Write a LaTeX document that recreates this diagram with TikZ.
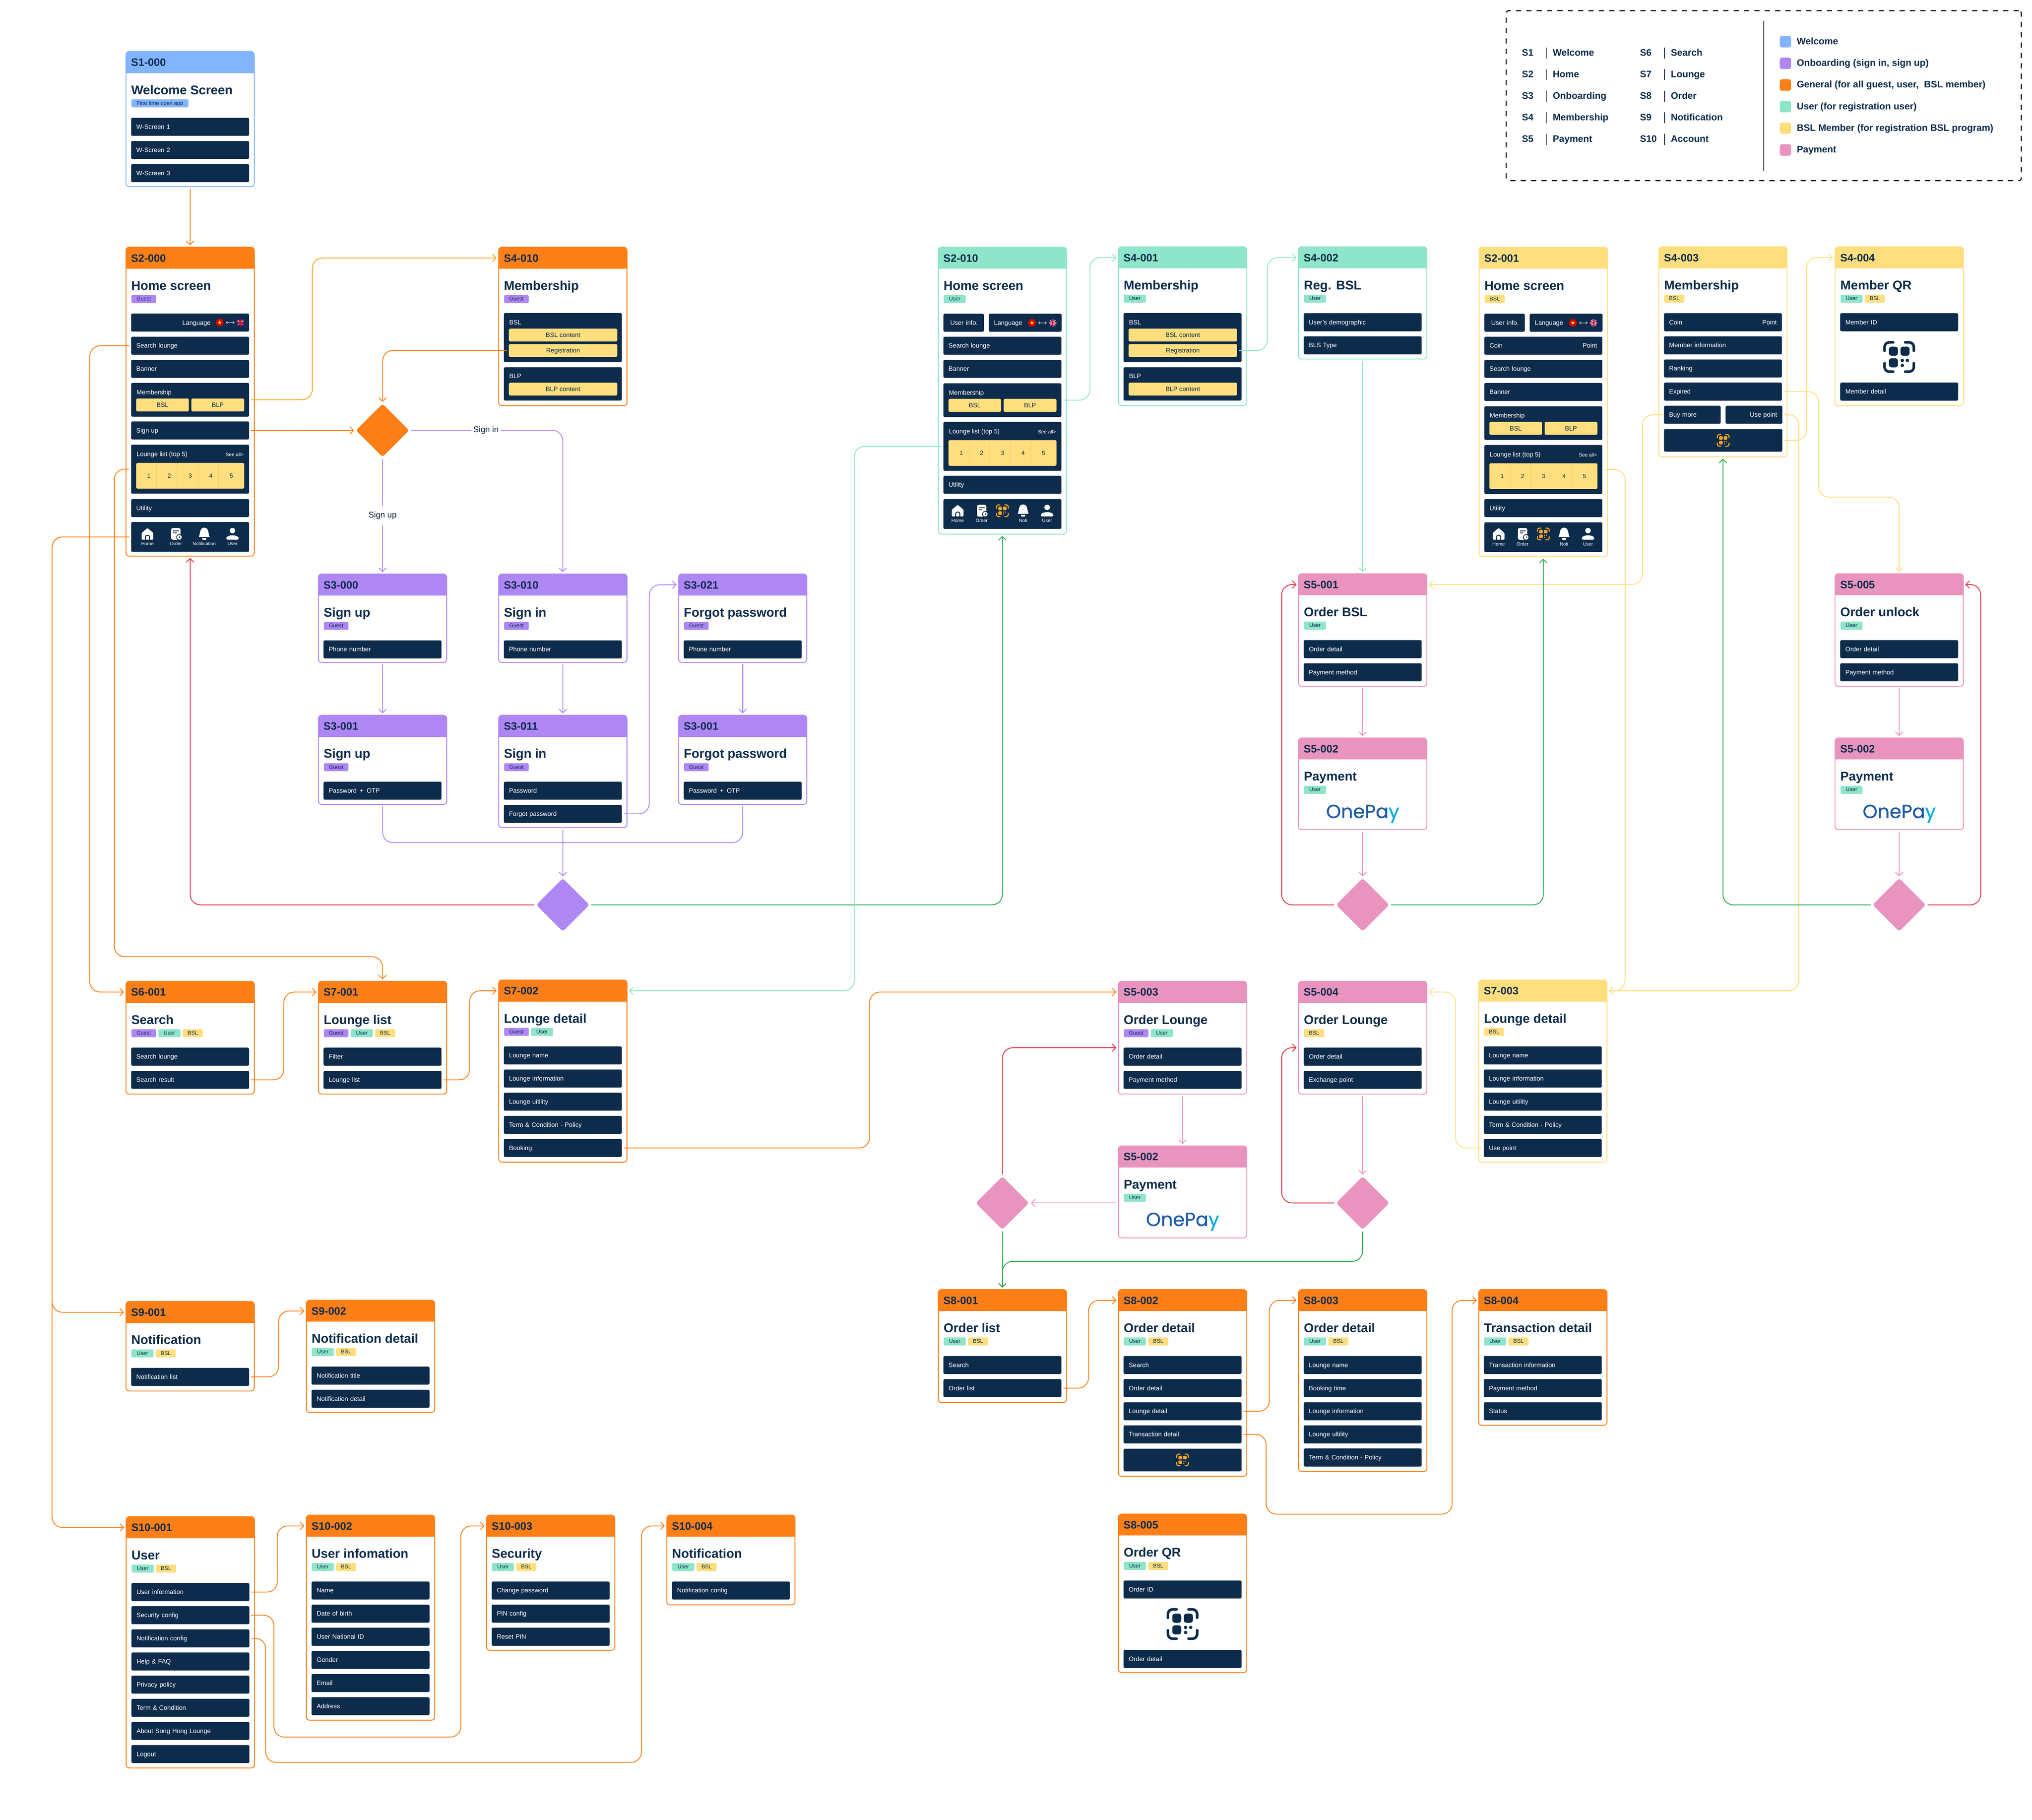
\documentclass[tikz,border=0pt]{standalone}
\usepackage{fontspec}
\setmainfont{Liberation Sans}
\newfontfamily\onepayface[FakeBold=0.8]{Poppins}
\usetikzlibrary{arrows.meta,shapes.geometric,calc}
\definecolor{navyC}{HTML}{0D2B4B}
\definecolor{blueC}{HTML}{82B4FF}
\definecolor{purpleC}{HTML}{AE87F5}
\definecolor{orangeC}{HTML}{FF7F17}
\definecolor{amberC}{HTML}{F5A623}
\definecolor{tealC}{HTML}{8EE5C9}
\definecolor{yellowC}{HTML}{FFDE7E}
\definecolor{yellowD}{HTML}{F0CC68}
\definecolor{pinkC}{HTML}{E994BE}
\definecolor{redC}{HTML}{E03444}
\definecolor{greenC}{HTML}{27A84A}
\definecolor{onepayA}{HTML}{1F5AA6}
\definecolor{onepayB}{HTML}{00AEDB}
\newcount\nodeC
\tikzset{
 x=1pt,y=-1pt,
 cardbox/.style={rectangle,fill=white,inner sep=0pt,outer sep=0pt,rounded corners=2.5pt,line width=.7pt},
 headbox/.style={rectangle,inner ysep=0pt,inner xsep=4pt,outer sep=0pt,minimum height=16.6pt,text width=91pt,align=left,text=navyC,font={\fontsize{8.3}{9}\selectfont\bfseries},text height=6pt,text depth=0pt},
 titlet/.style={inner sep=0pt,text=navyC,font={\fontsize{9.8}{11}\selectfont\bfseries},text height=7.2pt,text depth=1.9pt},
 tagbox/.style={rectangle,inner sep=0pt,rounded corners=1pt,minimum height=6.2pt,text=navyC,font={\fontsize{4.2}{4.6}\selectfont},text height=3.1pt,text depth=.6pt},
 rowbox/.style={rectangle,fill=navyC,text=white,rounded corners=1pt,inner xsep=4pt,inner ysep=0pt,outer sep=0pt,align=left,font={\fontsize{4.9}{5.5}\selectfont},text height=3.9pt,text depth=.5pt},
 rowlabel/.style={inner sep=0pt,text=white,font={\fontsize{4.9}{5.5}\selectfont},text height=3.9pt,text depth=.5pt},
 pillbox/.style={rectangle,fill=yellowC,text=navyC,rounded corners=1pt,inner sep=0pt,outer sep=0pt,font={\fontsize{4.9}{5.5}\selectfont},text height=3.9pt,text depth=.5pt},
 navlabel/.style={inner sep=0pt,text=white,font={\fontsize{3.6}{4}\selectfont},text height=2.6pt,text depth=.3pt},
 numlabel/.style={inner sep=0pt,text=navyC,font={\fontsize{4.6}{5}\selectfont}},
 conn/.style={draw=#1,line width=.65pt,rounded corners=8pt,shorten <=1.5pt,shorten >=1.5pt,-{Straight Barb[length=2.8pt,width=5.8pt]}},
 connl/.style={draw=#1,line width=.65pt,rounded corners=8pt,shorten <=1.5pt},
 dia/.style={diamond,aspect=1,inner sep=0pt,outer sep=0pt,minimum width=41pt,minimum height=41pt,rounded corners=2pt},
 lab/.style={fill=white,text=navyC!80!black,inner xsep=1.5pt,inner ysep=0pt,minimum height=15pt,font={\fontsize{6.4}{7}\selectfont}},
 legtext/.style={inner sep=0pt,text=navyC,font={\fontsize{7.3}{8}\selectfont\bfseries},text height=5.4pt,text depth=1.2pt},
 legbox/.style={draw=black,line width=.8pt,dash pattern=on 4pt off 4pt,rounded corners=2pt,minimum width=397.5pt,minimum height=131.1pt,inner sep=0pt},
 swatch/.style={rectangle,rounded corners=1.5pt,minimum width=8.7pt,minimum height=8.8pt,inner sep=0pt},
}
\newcommand\tagN[3]{%
 \global\advance\nodeC 1
 \node[tagbox,fill=#2,minimum width=#1pt,anchor=west] (n\the\nodeC) at (\tX,\tY) {#3};
 \pgfmathsetmacro\tTmp{\tX+#1+1.8}\xdef\tX{\tTmp}%
}
\newcommand\tG{\tagN{19}{purpleC}{Guest}}
\newcommand\tU{\tagN{17}{tealC}{User}}
\newcommand\tB{\tagN{15.5}{yellowC}{BSL}}
\newcommand\card[8]{%
 \pgfmathsetmacro\cH{#4-#3}
 \node[cardbox,draw=#5,minimum width=99pt,minimum height=\cH pt,anchor=north west] (#1) at (#2,#3) {};
 \fill[#5,rounded corners=2.5pt] (#2,{#3+8}) -- (#2,#3) -- ({#2+99},#3) -- ({#2+99},{#3+8}) -- cycle;
 \fill[#5] (#2,{#3+6}) rectangle ({#2+99},{#3+16.6});
 \node[headbox,anchor=north west] (#1h) at (#2,#3) {#6};
 \node[titlet,anchor=west] (#1t) at ({#2+3.9},{#3+30.4}) {#7};
 \pgfmathsetmacro\tTmp{#2+4}\xdef\tX{\tTmp}
 \pgfmathsetmacro\tTmp{#3+40}\xdef\tY{\tTmp}
 #8
}
% name x y w h text
\newcommand\Rw[6]{%
 \pgfmathsetmacro\rTw{#4-8}
 \node[rowbox,minimum height=#5pt,text width=\rTw pt,anchor=north west] (#1) at ({#2},{#3}) {#6};
}
% name cardx T i text
\newcommand\crow[5]{\Rw{#1}{#2+4}{#3+51.2+17.85*#4}{91}{13.9}{#5}}
\newcommand\freeL[3]{%
 \global\advance\nodeC 1
 \node[rowlabel,anchor=west] (n\the\nodeC) at ({#1},{#2}) {#3};
}
\newcommand\pillN[6]{%
 \pgfmathsetmacro\pW{(#4)-(#2)}\pgfmathsetmacro\pH{(#5)-(#3)}
 \node[pillbox,minimum width=\pW pt,minimum height=\pH pt,anchor=north west] (#1) at ({#2},{#3}) {#6};
}
\newcommand\pillA[5]{%
 \global\advance\nodeC 1
 \pillN{n\the\nodeC}{#1}{#2}{#3}{#4}{#5}%
}
\newcommand\memb[3]{%
 \Rw{#1}{#2}{#3}{91}{26}{}
 \freeL{#2+4}{#3+7.1}{Membership}
 \pillA{#2+3.9}{#3+12}{#2+44.5}{#3+22}{BSL}
 \pillA{#2+46.5}{#3+12}{#2+87.2}{#3+22}{BLP}
}
\newcommand\lng[3]{%
 \Rw{#1}{#2}{#3}{91}{37.8}{}
 \freeL{#2+4}{#3+7.2}{Lounge list (top 5)}
 \global\advance\nodeC 1
 \node[rowlabel,anchor=east,font={\fontsize{3.8}{4}\selectfont}] (n\the\nodeC) at ({#2+87},{#3+7.2}) {See all>};
 \fill[yellowC,rounded corners=1pt] ({#2+3.9},{#3+14.1}) rectangle ({#2+87.2},{#3+33.9});
 \foreach \sx in {19.8,35.7,51.5,67.4}{\draw[yellowD,line width=.25pt] ({#2+\sx},{#3+14.1}) -- ({#2+\sx},{#3+33.9});}
 \foreach \nx/\nv in {13.7/1,29.5/2,45.6/3,61.5/4,77.3/5}{%
  \global\advance\nodeC 1
  \node[numlabel] (n\the\nodeC) at ({#2+\nx},{#3+24}) {\nv};}
}
% icons
\newcommand\icoHome[2]{\begin{scope}[shift={(#1,#2)}]
 \fill[white,rounded corners=.7pt] (-4.5,4.4)--(-4.5,-.8)--(0,-4.6)--(4.5,-.8)--(4.5,4.4)--cycle;
 \draw[navyC,line width=.7pt,rounded corners=1.3pt] (-1.6,4.6)--(-1.6,1)--(1.6,1)--(1.6,4.6);
\end{scope}}
\newcommand\icoOrder[2]{\begin{scope}[shift={(#1,#2)}]
 \fill[white,rounded corners=1.3pt] (-3.6,-4.6) rectangle (3.6,4.5);
 \draw[navyC,line width=.6pt] (-2.2,-2.4)--(2.2,-2.4) (-2.2,-.8)--(.6,-.8);
 \fill[navyC] (2.7,2.6) circle (2.4);
 \fill[white] (2.7,2.6) circle (1.8);
 \draw[navyC,line width=.35pt] (2.7,1.5)--(2.7,2.7)--(3.6,2.7);
\end{scope}}
\newcommand\icoBell[2]{\begin{scope}[shift={(#1,#2)}]
 \fill[white,rounded corners=.4pt] (-4.5,2.4) .. controls (-3.2,1.4) and (-3.8,-4.8) .. (0,-4.8) .. controls (3.8,-4.8) and (3.2,1.4) .. (4.5,2.4) -- cycle;
 \fill[white,rounded corners=.7pt] (-1.7,3.1) rectangle (1.7,4.5);
\end{scope}}
\newcommand\icoUser[2]{\begin{scope}[shift={(#1,#2)}]
 \fill[white] (0,-2.6) circle (2.1);
 \fill[white,rounded corners=1pt] (-4.8,4.4) .. controls (-4.8,.3) and (4.8,.3) .. (4.8,4.4) -- cycle;
\end{scope}}
% x y size colour
\newcommand\qrIcon[4]{%
 \pgfmathsetmacro\qS{#3/24}\pgfmathsetmacro\qL{#3/12}\pgfmathsetmacro\qB{#3/24*3.6}\pgfmathsetmacro\qR{#3/24*2}
 \begin{scope}[shift={(#1,#2)},scale=\qS]
 \draw[#4,line width=\qL pt,line cap=round,rounded corners=\qB pt] (-11.3,-4.8)--(-11.3,-11.3)--(-4.6,-11.3);
 \draw[#4,line width=\qL pt,line cap=round,rounded corners=\qB pt] (11.3,-4.8)--(11.3,-11.3)--(4.6,-11.3);
 \draw[#4,line width=\qL pt,line cap=round,rounded corners=\qB pt] (-11.3,4.8)--(-11.3,11.3)--(-4.6,11.3);
 \draw[#4,line width=\qL pt,line cap=round,rounded corners=\qB pt] (11.3,4.8)--(11.3,11.3)--(4.6,11.3);
 \fill[#4,rounded corners=\qR pt] (-7.9,-8) rectangle (-1,-1);
 \fill[#4,rounded corners=\qR pt] (1,-8) rectangle (8,-1);
 \fill[#4,rounded corners=\qR pt] (-7.9,1) rectangle (-1,8);
 \fill[#4] (2.4,2.6) circle (1.3) (6.3,2.6) circle (1.3) (2.4,6.5) circle (1.3);
 \end{scope}}
\newcommand\navL[3]{%
 \global\advance\nodeC 1
 \node[navlabel] (n\the\nodeC) at ({#1},{#2}) {#3};
}
\newcommand\navF[3]{%
 \Rw{#1}{#2}{#3}{91}{23}{}
 \pgfmathsetmacro\nY{#3+9.2}\pgfmathsetmacro\nL{#3+16.9}
 \pgfmathsetmacro\nA{#2+12.6}\icoHome{\nA}{\nY}\navL{\nA}{\nL}{Home}
 \pgfmathsetmacro\nA{#2+34.5}\icoOrder{\nA}{\nY}\navL{\nA}{\nL}{Order}
 \pgfmathsetmacro\nA{#2+56.4}\icoBell{\nA}{\nY}\navL{\nA}{\nL}{Notification}
 \pgfmathsetmacro\nA{#2+78.2}\icoUser{\nA}{\nY}\navL{\nA}{\nL}{User}
}
\newcommand\navV[3]{%
 \Rw{#1}{#2}{#3}{91}{23}{}
 \pgfmathsetmacro\nY{#3+9}\pgfmathsetmacro\nL{#3+16.8}
 \pgfmathsetmacro\nA{#2+11}\icoHome{\nA}{\nY}\navL{\nA}{\nL}{Home}
 \pgfmathsetmacro\nA{#2+29.5}\icoOrder{\nA}{\nY}\navL{\nA}{\nL}{Order}
 \pgfmathsetmacro\nA{#2+45.5}\qrIcon{\nA}{\nY}{9.6}{amberC}
 \pgfmathsetmacro\nA{#2+61.5}\icoBell{\nA}{\nY}\navL{\nA}{\nL}{Noti}
 \pgfmathsetmacro\nA{#2+80}\icoUser{\nA}{\nY}\navL{\nA}{\nL}{User}
}
\newcommand\flagsN[2]{\begin{scope}[shift={(#1,#2)}]
 \fill[red!85!black] (0,0) circle (3);
 \fill[yellow] (0,-1.6)--(.37,-.5)--(1.5,-.48)--(.6,.19)--(.93,1.27)--(0,.63)--(-.93,1.27)--(-.6,.19)--(-1.5,-.48)--(-.37,-.5)--cycle;
 \draw[white,line width=.3pt,{Straight Barb[length=1pt,width=1.8pt]}-{Straight Barb[length=1pt,width=1.8pt]}] (4.8,0)--(11.4,0);
 \begin{scope}\clip (16,0) circle (3);
 \fill[blue!60!black] (13,-3) rectangle (19,3);
 \draw[white,line width=.8pt] (13,-3)--(19,3) (13,3)--(19,-3);
 \draw[white,line width=1.2pt] (16,-3)--(16,3) (13,0)--(19,0);
 \draw[red!85!black,line width=.7pt] (16,-3)--(16,3) (13,0)--(19,0);
 \draw[red!85!black,line width=.3pt] (13,-3)--(19,3) (13,3)--(19,-3);
 \end{scope}
\end{scope}}
\newcommand\onepay[3]{\node[inner sep=0pt,font={\fontsize{14.6}{16}\onepayface}] (#1) at ({#2},{#3}) {\textcolor{onepayA}{OnePa}\textcolor{onepayB}{y}};}
% BSL/BLP blocks of Membership pages
\newcommand\bslblocks[3]{%
 \Rw{#1a}{#2+4}{#3+51.1}{91}{37.9}{}
 \freeL{#2+8}{#3+58.2}{BSL}
 \pillA{#2+7.9}{#3+63.1}{#2+91.5}{#3+73}{BSL content}
 \pillN{#1reg}{#2+7.9}{#3+75}{#2+91.5}{#3+84.9}{Registration}
 \Rw{#1b}{#2+4}{#3+92.9}{91}{25.7}{}
 \freeL{#2+8}{#3+99.8}{BLP}
 \pillA{#2+7.9}{#3+104.8}{#2+91.5}{#3+114.7}{BLP content}
}
\newcommand\legL[5]{%
 \node[legtext,anchor=west] (#1a) at (#3,#5) {#1};
 \draw[navyC,line width=.35pt] ({#3+19.2},{#5-4.3}) -- ({#3+19.2},{#5+4.3});
 \node[legtext,anchor=west] (#1b) at ({#3+23.8},#5) {#2};
}
\newcommand\legR[4]{%
 \node[swatch,fill=#2] (#1s) at (1377.7,#4) {};
 \node[legtext,anchor=west] (#1t) at (1386.3,#4) {#3};
}
\begin{document}
\begin{tikzpicture}
\useasboundingbox (0,0) rectangle (1568,1403.9);
\fill[white] (0,0) rectangle (1568,1403.9);

% Legend
\node[legbox] (legend) at (1361,73.8) {};
\draw[black,line width=.6pt] (1360.9,15.9) -- (1360.9,131.9);
\legL{S1}{Welcome}{1174.2}{0}{40.9}
\legL{S2}{Home}{1174.2}{0}{57.5}
\legL{S3}{Onboarding}{1174.2}{0}{74.3}
\legL{S4}{Membership}{1174.2}{0}{90.8}
\legL{S5}{Payment}{1174.2}{0}{107.6}
\legL{S6}{Search}{1265.3}{0}{40.9}
\legL{S7}{Lounge}{1265.3}{0}{57.5}
\legL{S8}{Order}{1265.3}{0}{74.3}
\legL{S9}{Notification}{1265.3}{0}{90.8}
\legL{S10}{Account}{1265.3}{0}{107.6}
\legR{lga}{blueC}{Welcome}{32.2}
\legR{lgb}{purpleC}{Onboarding (sign in, sign up)}{48.8}
\legR{lgc}{orangeC}{General (for all guest, user,\ \ BSL member)}{65.6}
\legR{lgd}{tealC}{User (for registration user)}{82.3}
\legR{lge}{yellowC}{BSL Member (for registration BSL program)}{98.9}
\legR{lgf}{pinkC}{Payment}{115.7}

% S1
\card{sa}{97.2}{39.7}{144}{blueC}{S1-000}{Welcome Screen}{\tagN{44}{blueC}{First time open app}}
\crow{sa0}{97.2}{39.7}{0}{W-Screen 1}
\crow{sa1}{97.2}{39.7}{1}{W-Screen 2}
\crow{sa2}{97.2}{39.7}{2}{W-Screen 3}

% S2-000
\card{hg}{97.2}{190.7}{429}{orangeC}{S2-000}{Home screen}{\tG}
\crow{hglang}{97.2}{190.7}{0}{}
\freeL{140.5}{248.9}{Language}
\flagsN{169.5}{248.8}
\crow{hgsearch}{97.2}{190.7}{1}{Search lounge}
\crow{hgbanner}{97.2}{190.7}{2}{Banner}
\memb{hgmemb}{101.2}{295.4}
\Rw{hgsign}{101.2}{325.1}{91}{13.9}{Sign up}
\lng{hglng}{101.2}{343}
\Rw{hgutil}{101.2}{385}{91}{13.9}{Utility}
\navF{hgnav}{101.2}{402.7}

% S4-010
\card{mg}{384.8}{190.7}{313}{orangeC}{S4-010}{Membership}{\tG}
\bslblocks{mg}{384.8}{190.4}

% S3
\card{supa}{245.7}{442.8}{511}{purpleC}{S3-000}{Sign up}{\tG}
\crow{supa0}{245.7}{442.8}{0}{Phone number}
\card{sina}{384.8}{442.8}{511}{purpleC}{S3-010}{Sign in}{\tG}
\crow{sina0}{384.8}{442.8}{0}{Phone number}
\card{fpa}{523.6}{442.8}{511}{purpleC}{S3-021}{Forgot password}{\tG}
\crow{fpa0}{523.6}{442.8}{0}{Phone number}
\card{supb}{245.7}{551.8}{620.5}{purpleC}{S3-001}{Sign up}{\tG}
\crow{supb0}{245.7}{551.8}{0}{Password\enspace +\enspace OTP}
\card{sinb}{384.8}{551.8}{638.5}{purpleC}{S3-011}{Sign in}{\tG}
\crow{sinb0}{384.8}{551.8}{0}{Password}
\crow{sinb1}{384.8}{551.8}{1}{Forgot password}
\card{fpb}{523.6}{551.8}{620.5}{purpleC}{S3-001}{Forgot password}{\tG}
\crow{fpb0}{523.6}{551.8}{0}{Password\enspace +\enspace OTP}

% S2-010
\card{hu}{724}{190.7}{412}{tealC}{S2-010}{Home screen}{\tU}
\Rw{huinfo}{728}{242}{31.2}{13.9}{\hspace*{1.3pt}User info.}
\Rw{hulang}{763}{242}{56.2}{13.9}{Language}
\flagsN{796.3}{249}
\crow{husearch}{724}{190.7}{1}{Search lounge}
\crow{hubanner}{724}{190.7}{2}{Banner}
\memb{humemb}{728}{295.7}
\lng{hulng}{728}{325.4}
\Rw{huutil}{728}{367}{91}{13.9}{Utility}
\navV{hunav}{728}{385}

% S4-001 / S4-002
\card{mu}{863}{190.4}{312.8}{tealC}{S4-001}{Membership}{\tU}
\bslblocks{mu}{863}{190.4}
\card{rb}{1002}{190.4}{277}{tealC}{S4-002}{Reg. BSL}{\tU}
\crow{rb0}{1002}{190.4}{0}{User's demographic}
\crow{rb1}{1002}{190.4}{1}{BLS Type}

% S2-001
\card{hb}{1141.4}{190.7}{429.5}{yellowC}{S2-001}{Home screen}{\tB}
\Rw{hbinfo}{1145.4}{242}{31.2}{13.9}{\hspace*{1.3pt}User info.}
\Rw{hblang}{1180.4}{242}{56.2}{13.9}{Language}
\flagsN{1213.7}{249}
\crow{hbcoin}{1141.4}{190.7}{1}{Coin\hspace{\fill}Point}
\crow{hbsearch}{1141.4}{190.7}{2}{Search lounge}
\crow{hbbanner}{1141.4}{190.7}{3}{Banner}
\memb{hbmemb}{1145.4}{313.4}
\lng{hblng}{1145.4}{343.3}
\Rw{hbutil}{1145.4}{385}{91}{13.9}{Utility}
\navV{hbnav}{1145.4}{402.9}

% S4-003 / S4-004
\card{mb}{1280}{190.4}{352.4}{yellowC}{S4-003}{Membership}{\tB}
\crow{mb0}{1280}{190.4}{0}{Coin\hspace{\fill}Point}
\crow{mb1}{1280}{190.4}{1}{Member information}
\crow{mb2}{1280}{190.4}{2}{Ranking}
\crow{mbexp}{1280}{190.4}{3}{Expired}
\Rw{mbbuy}{1284}{313}{43.7}{13.9}{Buy more}
\Rw{mbuse}{1331.6}{313}{43.7}{13.9}{\hspace{\fill}Use point}
\Rw{mbqr}{1284}{331}{91.3}{17.4}{}
\qrIcon{1329.7}{339.7}{9.6}{amberC}
\card{qb}{1416}{190.4}{313}{yellowC}{S4-004}{Member QR}{\tU\tB}
\crow{qb0}{1416}{190.4}{0}{Member ID}
\qrIcon{1465.5}{275.4}{24}{navyC}
\crow{qb1}{1416}{190.4}{3}{Member detail}

% S5 right
\card{oa}{1002}{442.6}{529.4}{pinkC}{S5-001}{Order BSL}{\tU}
\crow{oa0}{1002}{442.6}{0}{Order detail}
\crow{oa1}{1002}{442.6}{1}{Payment method}
\card{pa}{1002}{569.3}{640}{pinkC}{S5-002}{Payment}{\tU}
\onepay{paL}{1051.5}{627.8}
\card{ob}{1416}{442.6}{529.4}{pinkC}{S5-005}{Order unlock}{\tU}
\crow{ob0}{1416}{442.6}{0}{Order detail}
\crow{ob1}{1416}{442.6}{1}{Payment method}
\card{pb}{1416}{569.3}{640}{pinkC}{S5-002}{Payment}{\tU}
\onepay{pbL}{1465.5}{627.8}

% middle row
\card{se}{97.2}{757}{844}{orangeC}{S6-001}{Search}{\tG\tU\tB}
\crow{se0}{97.2}{757}{0}{Search lounge}
\crow{se1}{97.2}{757}{1}{Search result}
\card{ll}{245.7}{757}{844}{orangeC}{S7-001}{Lounge list}{\tG\tU\tB}
\crow{ll0}{245.7}{757}{0}{Filter}
\crow{ll1}{245.7}{757}{1}{Lounge list}
\card{ld}{384.8}{756}{896.5}{orangeC}{S7-002}{Lounge detail}{\tG\tU}
\crow{ld0}{384.8}{756}{0}{Lounge name}
\crow{ld1}{384.8}{756}{1}{Lounge information}
\crow{ld2}{384.8}{756}{2}{Lounge uitility}
\crow{ld3}{384.8}{756}{3}{Term \& Condition - Policy}
\crow{ld4}{384.8}{756}{4}{Booking}
\card{oc}{863}{757}{844}{pinkC}{S5-003}{Order Lounge}{\tG\tU}
\crow{oc0}{863}{757}{0}{Order detail}
\crow{oc1}{863}{757}{1}{Payment method}
\card{od}{1002}{757}{844}{pinkC}{S5-004}{Order Lounge}{\tB}
\crow{od0}{1002}{757}{0}{Order detail}
\crow{od1}{1002}{757}{1}{Exchange point}
\card{lb}{1141}{756}{896.5}{yellowC}{S7-003}{Lounge detail}{\tB}
\crow{lb0}{1141}{756}{0}{Lounge name}
\crow{lb1}{1141}{756}{1}{Lounge information}
\crow{lb2}{1141}{756}{2}{Lounge uitility}
\crow{lb3}{1141}{756}{3}{Term \& Condition - Policy}
\crow{lb4}{1141}{756}{4}{Use point}
\card{pc}{863}{884}{955}{pinkC}{S5-002}{Payment}{\tU}
\onepay{pcL}{912.5}{942.5}

% S8
\card{ola}{724}{994.8}{1082}{orangeC}{S8-001}{Order list}{\tU\tB}
\crow{ola0}{724}{994.8}{0}{Search}
\crow{ola1}{724}{994.8}{1}{Order list}
\card{odb}{863}{994.8}{1138.8}{orangeC}{S8-002}{Order detail}{\tU\tB}
\crow{odb0}{863}{994.8}{0}{Search}
\crow{odb1}{863}{994.8}{1}{Order detail}
\crow{odb2}{863}{994.8}{2}{Lounge detail}
\crow{odb3}{863}{994.8}{3}{Transaction detail}
\Rw{odb4}{867}{1117.5}{91}{17.5}{}
\qrIcon{912.5}{1126.2}{9.6}{amberC}
\card{odc}{1002}{994.8}{1135.2}{orangeC}{S8-003}{Order detail}{\tU\tB}
\crow{odc0}{1002}{994.8}{0}{Lounge name}
\crow{odc1}{1002}{994.8}{1}{Booking time}
\crow{odc2}{1002}{994.8}{2}{Lounge information}
\crow{odc3}{1002}{994.8}{3}{Lounge ultility}
\crow{odc4}{1002}{994.8}{4}{Term \& Condition - Policy}
\card{tr}{1141}{994.8}{1099.5}{orangeC}{S8-004}{Transaction detail}{\tU\tB}
\crow{tr0}{1141}{994.8}{0}{Transaction information}
\crow{tr1}{1141}{994.8}{1}{Payment method}
\crow{tr2}{1141}{994.8}{2}{Status}
\card{oq}{863}{1168}{1290.3}{orangeC}{S8-005}{Order QR}{\tU\tB}
\crow{oq0}{863}{1168}{0}{Order ID}
\qrIcon{912.5}{1252.8}{24}{navyC}
\crow{oq1}{863}{1168}{3}{Order detail}

% S9
\card{na}{97.2}{1004}{1073}{orangeC}{S9-001}{Notification}{\tU\tB}
\crow{na0}{97.2}{1004}{0}{Notification list}
\card{nb}{236.4}{1003}{1089.5}{orangeC}{S9-002}{Notification detail}{\tU\tB}
\crow{nb0}{236.4}{1003}{0}{Notification title}
\crow{nb1}{236.4}{1003}{1}{Notification detail}

% S10
\card{ua}{97.4}{1170}{1363.8}{orangeC}{S10-001}{User}{\tU\tB}
\crow{ua0}{97.4}{1170}{0}{User information}
\crow{ua1}{97.4}{1170}{1}{Security config}
\crow{ua2}{97.4}{1170}{2}{Notification config}
\crow{ua3}{97.4}{1170}{3}{Help \& FAQ}
\crow{ua4}{97.4}{1170}{4}{Privacy policy}
\crow{ua5}{97.4}{1170}{5}{Term \& Condition}
\crow{ua6}{97.4}{1170}{6}{About Song Hong Lounge}
\crow{ua7}{97.4}{1170}{7}{Logout}
\card{ub}{236.4}{1168.8}{1327}{orangeC}{S10-002}{User infomation}{\tU\tB}
\crow{ub0}{236.4}{1168.8}{0}{Name}
\crow{ub1}{236.4}{1168.8}{1}{Date of birth}
\crow{ub2}{236.4}{1168.8}{2}{User National ID}
\crow{ub3}{236.4}{1168.8}{3}{Gender}
\crow{ub4}{236.4}{1168.8}{4}{Email}
\crow{ub5}{236.4}{1168.8}{5}{Address}
\card{uc}{375.4}{1168.8}{1273}{orangeC}{S10-003}{Security}{\tU\tB}
\crow{uc0}{375.4}{1168.8}{0}{Change password}
\crow{uc1}{375.4}{1168.8}{1}{PIN config}
\crow{uc2}{375.4}{1168.8}{2}{Reset PIN}
\card{ud}{514.5}{1168.8}{1238}{orangeC}{S10-004}{Notification}{\tU\tB}
\crow{ud0}{514.5}{1168.8}{0}{Notification config}

% Diamonds
\node[dia,fill=orangeC] (dz) at (295.2,332) {};
\node[dia,fill=purpleC] (dp) at (434.3,698) {};
\node[dia,fill=pinkC] (de) at (1051.5,698) {};
\node[dia,fill=pinkC] (df) at (1465.5,698) {};
\node[dia,fill=pinkC] (dg) at (773.5,928) {};
\node[dia,fill=pinkC] (dh) at (1051.5,928) {};
\coordinate (pj) at (434.3,650);

% Orange connectors
\draw[conn=orangeC] (sa.south) -- (hg.north);
\draw[conn=amberC] (hgmemb.east) -- ++(48.8,0) |- (mgh.west);
\draw[conn=orangeC] (mgreg.west) -| (dz.north);
\draw[conn=orangeC] (hgsign.east) -- (dz.west);
\draw[conn=orangeC] (hgsearch.west) -- ++(-31.9,0) |- (seh.west);
\draw[conn=orangeC] (hglng.west) -- ++(-13,0) -- (88.2,738) -| (ll.north);
\draw[conn=orangeC] (hgnav.west) -- ++(-61,0) |- (nah.west);
\draw[conn=orangeC] (hgnav.west) -- ++(-61,0) |- (uah.west);
\draw[conn=orangeC] (se1.east) -- ++(26.8,0) |- (llh.west);
\draw[conn=orangeC] (ll1.east) -- ++(21.7,0) |- (ldh.west);
\draw[conn=orangeC] (ld4.east) -- ++(191.2,0) |- (och.west);
\draw[conn=orangeC] (na0.east) -- ++(22.8,0) |- (nbh.west);
\draw[conn=orangeC] (ua0.east) -- ++(21.6,0) |- (ubh.west);
\draw[conn=orangeC] (ua1.east) -- ++(19,0) -- ++(0,94) -- ++(144.2,0) |- (uch.west);
\draw[conn=orangeC] (ua2.east) -- ++(12.6,0) -- ++(0,95.6) -- ++(290,0) |- (udh.west);
\draw[conn=orangeC] (ola1.east) -- ++(21,0) |- (odbh.west);
\draw[conn=orangeC] (odb2.east) -- ++(21.5,0) |- (odch.west);
\draw[conn=orangeC] (odb3.east) -- ++(19,0) -- ++(0,61.5) -- ++(143.5,0) |- (trh.west);

% Purple connectors
\draw[conn=purpleC] (dz.east) -| node[lab,pos=.25] (lsi) {Sign in} (sina.north);
\draw[conn=purpleC] (dz.south) -- node[lab] (lsu) {Sign up} (supa.north);
\draw[conn=purpleC] (supa.south) -- (supb.north);
\draw[conn=purpleC] (sina.south) -- (sinb.north);
\draw[conn=purpleC] (fpa.south) -- (fpb.north);
\draw[conn=purpleC] (sinb1.east) -- ++(21.2,0) |- (fpah.west);
\draw[connl=purpleC] (supb.south) |- (pj);
\draw[connl=purpleC] (fpb.south) |- (pj);
\draw[conn=purpleC] (sinb.south) -- (dp.north);
\draw[conn=redC] (dp.west) -| (hg.south);
\draw[conn=greenC] (dp.east) -| (hu.south);

% Teal connectors
\draw[conn=tealC] (hulng.west) -- ++(-68.8,0) |- (ldh.east);
\draw[conn=tealC] (humemb.east) -- ++(22,0) |- (muh.west);
\draw[conn=tealC] (mureg.east) -- ++(23.5,0) |- (rbh.west);
\draw[conn=tealC] (rb.south) -- (oa.north);

% Yellow connectors
\draw[conn=yellowC] (hblng.east) -- ++(17.6,0) |- (lbh.east);
\draw[conn=yellowC] (mbbuy.west) -- ++(-16.7,0) |- (oah.east);
\draw[conn=yellowC] (mbuse.east) -- ++(12.7,0) |- (lbh.east);
\draw[conn=yellowC] (mbexp.east) -- ++(28.3,0) -- ++(0,81.4) -| (ob.north);
\draw[conn=yellowC] (mbqr.east) -- ++(18.7,0) |- (qbh.west);
\draw[conn=yellowC] (lb4.west) -- ++(-21.8,0) |- (odh.east);

% Pink connectors
\draw[conn=pinkC] (oa.south) -- (pa.north);
\draw[conn=pinkC] (pa.south) -- (de.north);
\draw[conn=pinkC] (ob.south) -- (pb.north);
\draw[conn=pinkC] (pb.south) -- (df.north);
\draw[conn=pinkC] (oc.south) -- (pc.north);
\draw[conn=pinkC] (pc.west |- dg.east) -- (dg.east);
\draw[conn=pinkC] (od.south) -- (dh.north);
\draw[conn=redC] (de.west) -- ++(-42,0) |- (oah.west);
\draw[conn=greenC] (de.east) -| (hb.south);
\draw[conn=greenC] (df.west) -| (mb.south);
\draw[conn=redC] (df.east) -- ++(42.4,0) |- (obh.east);
\draw[conn=redC] (dg.north) |- (oc.west |- oc0.north);
\draw[conn=redC] (dh.west) -- ++(-42,0) |- (od.west |- od0.north);
\draw[conn=greenC] (dg.south) -- (ola.north);
\draw[conn=greenC] (dh.south) -- ++(0,24.5) -| (ola.north);
\end{tikzpicture}
\end{document}
